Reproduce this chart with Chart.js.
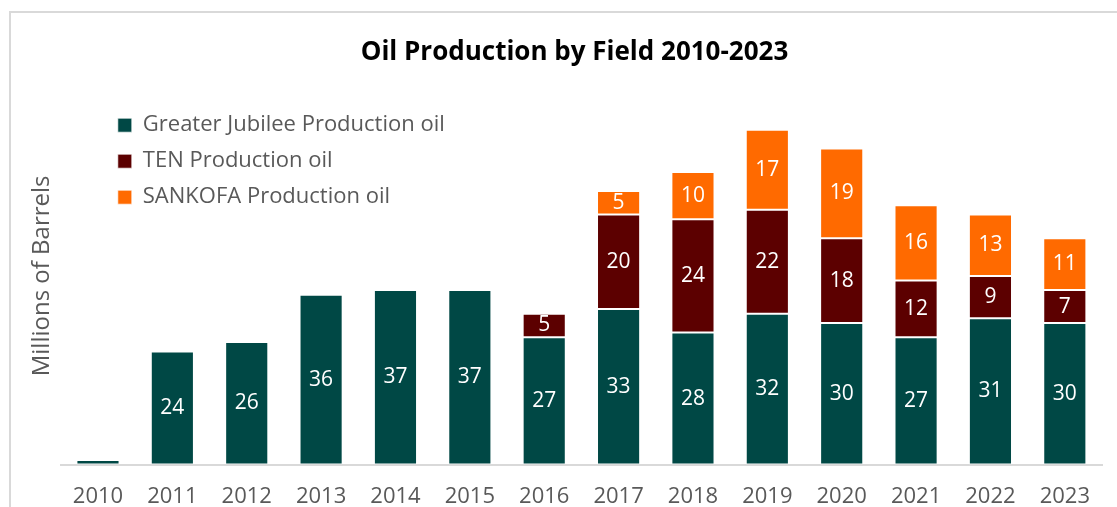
<!DOCTYPE html>
<html>
<head>
<meta charset="utf-8">
<script src="https://cdn.jsdelivr.net/npm/chart.js@4"></script>
<style>
  html, body { margin: 0; padding: 0; background: #fff; overflow: hidden; }
  #frame { position: absolute; left: 9px; top: 11px; width: 1200px; height: 600px; border: 2px solid #d9d9d9; }
  #wrap { position: absolute; left: 0; top: 0; width: 1117px; height: 507px; }
</style>
</head>
<body>
<div id="frame"></div>
<div id="wrap"><canvas id="chart-1"></canvas></div>
<script>
const years = ['2010', '2011', '2012', '2013', '2014', '2015', '2016', '2017', '2018', '2019', '2020', '2021', '2022', '2023'];
const jubilee = [1, 24, 26, 36, 37, 37, 27, 33, 28, 32, 30, 27, 31, 30];
const ten = [null, null, null, null, null, null, 5, 20, 24, 22, 18, 12, 9, 7];
const sankofa = [null, null, null, null, null, null, null, 5, 10, 17, 19, 16, 13, 11];

const font = '"Open Sans", "Liberation Sans", sans-serif';
const grey = '#595959';

// white numbers in the middle of each segment
const barLabels = {
    id: 'barLabels',
    afterDatasetsDraw(chart) {
        const ctx = chart.ctx;
        ctx.save();
        ctx.font = '21px ' + font;
        ctx.fillStyle = '#ffffff';
        ctx.textAlign = 'center';
        ctx.textBaseline = 'middle';
        chart.data.datasets.forEach((ds, di) => {
            chart.getDatasetMeta(di).data.forEach((bar, i) => {
                const v = ds.data[i];
                if (v == null || v < 3) return;
                ctx.fillText(String(v), bar.x, (bar.y + bar.base) / 2);
            });
        });
        ctx.restore();
    }
};

// put legend in the top-left of the plot, centre the title on the frame
const placeBoxes = {
    id: 'placeBoxes',
    afterLayout(chart) {
        const lg = chart.legend;
        const area = chart.chartArea;
        lg.left = area.left + 43;
        lg.right = area.right;
        lg.top = area.top + 13;
        lg.bottom = area.bottom;
        const t = chart.titleBlock;
        t.left = 32;
        t.right = 1117;
    }
};

const ctx1 = document.getElementById('chart-1').getContext('2d');
const myChart = new Chart(ctx1, {
    type: 'bar',
    data: {
        labels: years,
        datasets: [{
            label: 'Greater Jubilee Production oil',
            data: jubilee,
            backgroundColor: '#004845',
        }, {
            label: 'TEN Production oil',
            data: ten,
            backgroundColor: '#5c0000',
        }, {
            label: 'SANKOFA Production oil',
            data: sankofa,
            backgroundColor: '#ff6a00',
        }],
    },
    options: {
        responsive: true,
        maintainAspectRatio: false,
        animation: false,
        devicePixelRatio: 1,
        layout: { padding: { left: 24, right: 15, top: 0, bottom: -22 } },
        datasets: {
            bar: {
                categoryPercentage: 1,
                barPercentage: 0.58,
                borderColor: 'rgba(255,255,255,0.7)',
                borderWidth: 1,
                borderSkipped: false,
            },
        },
        scales: {
            x: {
                stacked: true,
                grid: { display: false, drawTicks: false },
                border: { display: true, color: '#d9d9d9', width: 2 },
                ticks: { color: grey, font: { family: font, size: 22 }, padding: 19 },
            },
            y: {
                stacked: true,
                min: 0,
                max: 80,
                grid: { display: false, drawTicks: false },
                border: { display: false },
                ticks: { display: false },
                title: { display: true, text: 'Millions of Barrels', color: grey, font: { family: font, size: 24 } },
            },
        },
        plugins: {
            title: {
                display: true,
                text: 'Oil Production by Field 2010-2023',
                color: '#000000',
                font: { family: font, size: 26, weight: 'bold' },
                padding: { top: 37, bottom: 19 },
            },
            legend: {
                position: 'chartArea',
                align: 'start',
                labels: {
                    boxWidth: 14,
                    boxHeight: 14,
                    padding: 14,
                    color: grey,
                    font: { family: font, size: 22 },
                },
            },
            tooltip: { enabled: false },
        },
    },
    plugins: [barLabels, placeBoxes],
});
</script>
</body>
</html>
